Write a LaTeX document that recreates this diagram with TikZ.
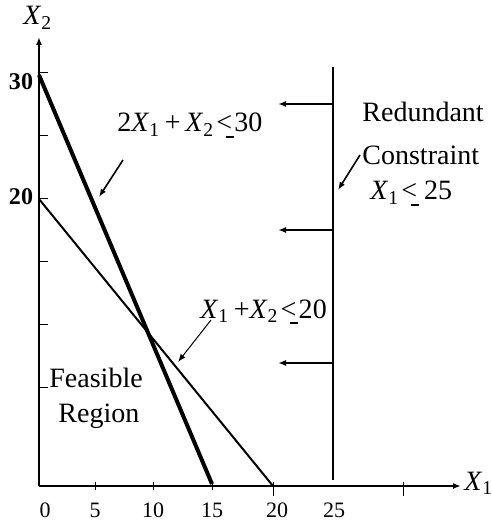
\documentclass[tikz,border=0pt]{standalone}
\usepackage{amsmath}
\usepackage{fontspec}
\setmainfont{Liberation Serif}
\usetikzlibrary{arrows.meta,calc}
\newcommand{\Xv}[1]{\textit{X}$_{\textup{#1}}$}
\newcommand{\lts}{\kern0.08em\ooalign{{<}\cr\hfil\raisebox{-0.5ex}{\rule{0.28em}{0.09em}}\kern-0.05em\cr}\kern0.08em}

\begin{document}
\begin{tikzpicture}[x=0.5pt,y=-0.5pt,
  txt/.style={font=\fontsize{14}{16}\selectfont, inner sep=0pt, anchor=base west},
  num/.style={font=\fontsize{11}{13}\selectfont, inner sep=0pt, anchor=base},
  bnum/.style={font=\fontsize{12}{14}\selectfont\bfseries, inner sep=0pt, anchor=base},
  axis/.style={line width=1pt, -{Latex[length=4pt,width=3pt]}},
  tck/.style={line width=0.5pt},
  ar/.style={-{Latex[length=4pt,width=3pt]}, line width=0.8pt},
]
\useasboundingbox (0,0) rectangle (491,522);

% axes
\coordinate (o)    at (39,486);
\coordinate (xend) at (461,486);
\coordinate (yend) at (39,37);
\draw[axis] (o) -- (xend);
\draw[axis] (o) -- (yend);
\node[txt] (xlab) at (464,490) {\Xv{1}};
\node[txt] (ylab) at (23,25)   {\Xv{2}};

\foreach \y in {73,136,199,262,324,387}{\draw[tck] (39,\y) -- ++(9,0);}
\foreach \x in {95,153,212}{\draw[tck] (\x,482) -- ++(0,8);}
\foreach \x in {273,403}{\draw[tck] (\x,482) -- ++(0,14);}
\foreach \x/\t in {45/0,95/5,153/10,212/15,277/20,334/25}{
  \node[num] (xt\t) at (\x,517) {\t};}
\node[bnum] (y30) at (21,90)  {30};
\node[bnum] (y20) at (21,205) {20};

% constraint lines
\coordinate (a30) at (39,75);
\coordinate (a15) at (212,484);
\coordinate (b20) at (39,199);
\coordinate (b20x) at (273,486);
\coordinate (c25t) at (333,67);
\coordinate (c25b) at (333,480);
\draw[line width=2pt] (a30) -- (a15);
\draw[line width=1pt] (b20) -- (b20x);
\draw[line width=1.3pt] (c25t) -- (c25b);
\foreach \y [count=\i] in {104,230,363}{
  \coordinate (h\i) at (333,\y);
  \draw[ar] (h\i) -- ++(-55,0);}

% labels
\node[txt] (l30) at (117,132) {2\Xv{1}\,+\,\Xv{2}\lts30};
\node[txt] (red) at (362,122) {Redundant};
\node[txt] (con) at (362,165) {Constraint};
\node[txt] (l25) at (370,200) {\Xv{1}\lts\,25};
\node[txt] (l20) at (200,318) {\Xv{1}\,+\Xv{2}\lts20};
\node[txt] (fea) at (49,387)  {Feasible};
\node[txt] (reg) at (58,422)  {Region};

% pointers
\coordinate (p1) at (123,160); \coordinate (q1) at (99,197);
\coordinate (p2) at (360,155); \coordinate (q2) at (338,190);
\coordinate (p3) at (211,320); \coordinate (q3) at (178,362);
\draw[ar] (p1) -- (q1);
\draw[ar] (p2) -- (q2);
\draw[ar, line width=0.5pt] (p3) -- (q3);
\end{tikzpicture}
\end{document}
